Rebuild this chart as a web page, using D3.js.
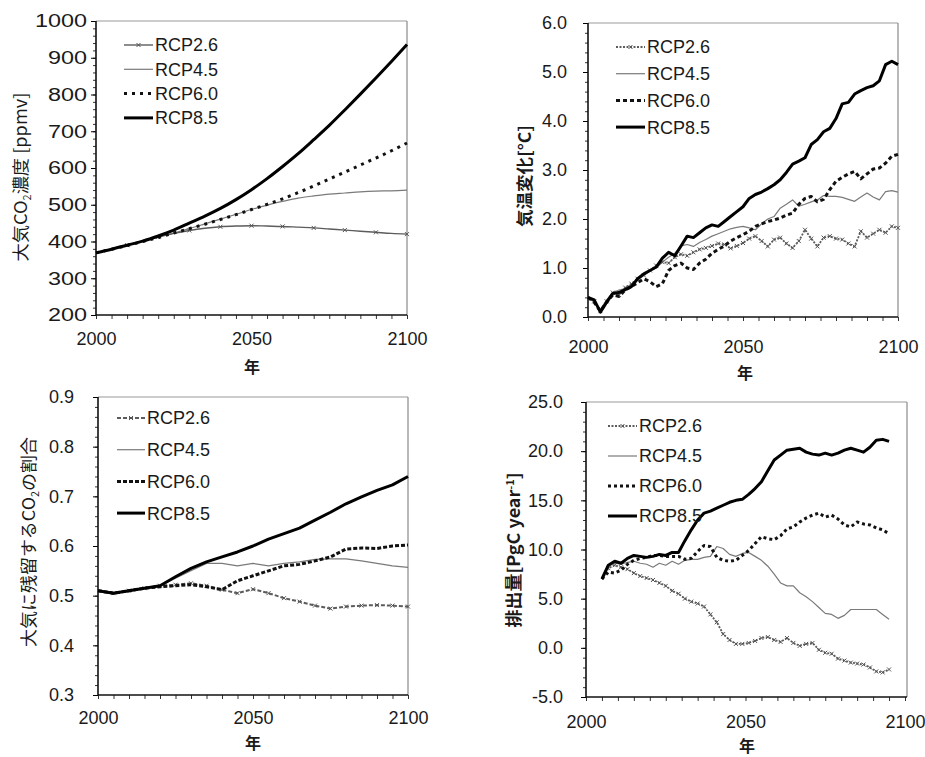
<!DOCTYPE html>
<html><head><meta charset="utf-8">
<script src="https://cdn.jsdelivr.net/npm/d3@7"></script>
<style>body{margin:0;background:#fff} svg{display:block}</style>
</head><body><svg id="c" width="925" height="757"></svg>
<script>
// ---------------- DATA ----------------
const seriesNames = ["RCP2.6", "RCP4.5", "RCP6.0", "RCP8.5"];
const xTickLabels = [2000, 2050, 2100];

// Panel 1: atmospheric CO2 (ppmv)
const co2Years = d3.range(2000, 2101, 5);
const co2_rcp26 = [369,379,390,401,412,422,430,436,440,442,443,442,441,439,437,434,431,428,425,422,420];
const co2_rcp45 = [369,379,390,401,412,423,435,448,461,474,487,499,509,518,524,529,532,535,537,538,540];
const co2_rcp60 = [369,379,389,400,411,423,435,447,460,473,487,501,516,533,551,570,589,608,627,647,668];
const co2_rcp85 = [369,379,390,401,415,431,450,469,490,514,541,571,604,639,677,716,758,801,845,890,936];
const co2Ticks = [200,300,400,500,600,700,800,900,1000];

// Panel 2: temperature change (°C)
const tempYears = d3.range(2000, 2101, 2);
const temp_rcp26 = [0.40,0.32,0.12,0.32,0.50,0.45,0.60,0.68,0.78,0.85,
                    0.95,1.05,1.12,1.10,1.22,1.28,1.25,1.32,1.38,1.41,
                    1.45,1.50,1.48,1.40,1.45,1.51,1.60,1.65,1.55,1.44,
                    1.58,1.62,1.50,1.41,1.55,1.78,1.60,1.44,1.62,1.65,
                    1.60,1.58,1.50,1.44,1.75,1.62,1.70,1.78,1.72,1.85,1.82];
const temp_rcp45 = [0.40,0.30,0.15,0.35,0.50,0.55,0.58,0.65,0.75,0.85,
                    0.95,1.00,1.12,1.22,1.30,1.45,1.48,1.44,1.52,1.58,
                    1.65,1.70,1.75,1.80,1.83,1.85,1.82,1.78,1.90,2.00,
                    2.05,2.22,2.30,2.39,2.26,2.30,2.35,2.39,2.48,2.46,
                    2.46,2.44,2.40,2.36,2.45,2.53,2.45,2.39,2.56,2.58,2.55];
const temp_rcp60 = [0.40,0.30,0.12,0.30,0.45,0.42,0.55,0.62,0.70,0.78,
                    0.72,0.62,0.68,0.95,1.05,1.10,1.00,0.97,1.10,1.18,
                    1.30,1.38,1.45,1.55,1.62,1.68,1.75,1.85,1.90,1.95,
                    1.98,2.02,2.08,2.12,2.30,2.42,2.46,2.35,2.40,2.60,
                    2.77,2.85,2.92,2.97,2.82,2.92,3.02,3.04,3.14,3.28,3.32];
const temp_rcp85 = [0.40,0.35,0.10,0.30,0.48,0.50,0.56,0.62,0.78,0.88,
                    0.95,1.02,1.20,1.32,1.25,1.45,1.65,1.62,1.72,1.82,
                    1.88,1.85,1.95,2.05,2.15,2.25,2.42,2.50,2.55,2.62,
                    2.70,2.80,2.95,3.12,3.18,3.25,3.52,3.62,3.78,3.85,
                    4.05,4.35,4.38,4.55,4.62,4.68,4.72,4.82,5.15,5.22,5.15];
const tempTicks = [0,1,2,3,4,5,6];

// Panel 3: airborne fraction of CO2
const afYears = d3.range(2000, 2101, 5);
const af_rcp26 = [0.510,0.505,0.510,0.515,0.520,0.522,0.525,0.520,0.512,0.505,0.513,0.505,0.495,0.488,0.480,0.474,0.478,0.480,0.481,0.480,0.478];
const af_rcp45 = [0.510,0.505,0.510,0.515,0.520,0.535,0.550,0.565,0.565,0.560,0.565,0.560,0.565,0.568,0.573,0.574,0.574,0.570,0.565,0.560,0.557];
const af_rcp60 = [0.510,0.505,0.510,0.515,0.518,0.520,0.522,0.518,0.512,0.530,0.540,0.550,0.560,0.563,0.570,0.578,0.594,0.596,0.595,0.600,0.602];
const af_rcp85 = [0.510,0.505,0.510,0.515,0.520,0.538,0.555,0.568,0.578,0.588,0.600,0.614,0.625,0.636,0.652,0.668,0.685,0.699,0.712,0.723,0.740];
const afTicks = [0.3,0.4,0.5,0.6,0.7,0.8,0.9];

// Panel 4: emissions (PgC/yr)
const emYears = d3.range(2005, 2096, 2);
const em_rcp26 = [7.0,8.1,8.4,8.2,8.0,7.6,7.3,7.1,6.9,6.6,
                  6.3,5.8,5.5,5.0,4.7,4.5,4.2,3.4,2.6,1.4,
                  0.8,0.4,0.4,0.5,0.7,1.0,1.1,0.8,0.6,1.0,
                  0.5,0.2,0.4,0.5,-0.2,-0.5,-0.6,-1.1,-1.3,-1.5,
                  -1.6,-1.7,-2.0,-2.4,-2.5,-2.2];
const em_rcp45 = [7.0,8.3,8.6,8.5,8.7,8.8,8.6,8.5,8.2,8.6,
                  8.4,8.8,8.5,8.9,9.0,9.0,9.2,9.3,10.3,10.1,
                  9.5,9.3,9.6,9.7,9.3,8.9,8.3,7.5,6.6,6.3,
                  6.3,5.6,5.2,4.7,4.1,3.5,3.4,3.0,3.3,3.9,
                  3.9,3.9,3.9,3.9,3.4,2.9];
const em_rcp60 = [7.0,7.7,7.6,7.9,8.5,8.9,9.1,9.2,9.4,9.4,
                  9.3,9.3,9.3,9.0,9.1,9.8,10.4,10.3,9.2,8.9,
                  8.8,8.9,9.4,9.9,10.6,11.3,11.1,11.0,11.4,12.1,
                  12.3,12.8,13.2,13.5,13.7,13.3,13.5,13.1,12.5,12.3,
                  12.8,12.6,12.5,12.2,12.0,11.6];
const em_rcp85 = [7.0,8.4,8.8,8.6,9.1,9.4,9.3,9.2,9.3,9.5,
                  9.4,9.7,9.7,10.9,12.0,13.0,13.7,13.9,14.2,14.5,
                  14.8,15.0,15.1,15.6,16.2,16.9,18.0,19.1,19.6,20.1,
                  20.2,20.3,19.9,19.7,19.6,19.8,19.6,19.8,20.1,20.3,
                  20.1,19.9,20.4,21.1,21.2,21.0];
const emTicks = [-5,0,5,10,15,20,25];

// ---------------- RENDER ----------------
const svg = d3.select("#c");
const NUM_FONT = "'Liberation Sans', Arial, sans-serif";
const JP_FONT = "'Noto Sans CJK JP', 'Noto Sans CJK SC', sans-serif";

const baseStyles = {
  "RCP2.6": {stroke: "#5c5c5c", width: 1.4, marker: true},
  "RCP4.5": {stroke: "#7a7a7a", width: 1.2},
  "RCP6.0": {stroke: "#111", width: 3},
  "RCP8.5": {stroke: "#000", width: 3}
};

const panels = [
  {x0: 96, x1: 407, right: 407, yTop: 21, yBot: 315, yDomain: [200, 1000], yTicks: co2Ticks, yMinor: 20,
   fmt: d => String(d), yGap: 9, yStretch: 1.3, xLabOff: 24,
   title: [{t: "大気CO"}, {t: "2", sub: true}, {t: "濃度 [ppmv]"}], tcx: 20, tcy: 177, tlen: 169, tsize: 17, tbold: false,
   yearX: 252, yearY: 367, lg: {x0: 124, x1: 153, tx: 155, y0: 45, dy: 24.3},
   dashes: {"RCP2.6": null, "RCP6.0": "3,5"}, w26: 1.4, markerEvery: 2,
   years: co2Years, data: [co2_rcp26, co2_rcp45, co2_rcp60, co2_rcp85]},
  {x0: 588, x1: 898, right: 898, yTop: 23, yBot: 317, yDomain: [0, 6], yTicks: tempTicks, yMinor: 0.2,
   fmt: d => d.toFixed(1), yGap: 21, yStretch: 1, xLabOff: 30,
   title: [{t: "気温変化[°C]"}], tcx: 523, tcy: 176, tlen: 102, tsize: 17, tbold: true,
   yearX: 745, yearY: 373, lg: {x0: 616, x1: 645, tx: 647, y0: 47, dy: 26.7},
   dashes: {"RCP2.6": "2,1.5", "RCP6.0": "4,3"}, w26: 1.8, markerEvery: 1,
   years: tempYears, data: [temp_rcp26, temp_rcp45, temp_rcp60, temp_rcp85]},
  {x0: 98, x1: 408, right: 408, yTop: 397, yBot: 695, yDomain: [0.3, 0.9], yTicks: afTicks, yMinor: 0.02,
   fmt: d => d.toFixed(1), yGap: 24, yStretch: 1, xLabOff: 23,
   title: [{t: "大気に残留するCO"}, {t: "2", sub: true}, {t: "の割合"}], tcx: 28, tcy: 542, tlen: 210, tsize: 17, tbold: false,
   yearX: 253, yearY: 743, lg: {x0: 117, x1: 145, tx: 147, y0: 418, dy: 31.7},
   dashes: {"RCP2.6": "4,2", "RCP6.0": "4,2"}, w26: 2, markerEvery: 1,
   years: afYears, data: [af_rcp26, af_rcp45, af_rcp60, af_rcp85]},
  {x0: 586, x1: 905, right: 907, yTop: 402, yBot: 697, yDomain: [-5, 25], yTicks: emTicks, yMinor: 1,
   fmt: d => d.toFixed(1), yGap: 23, yStretch: 1, xLabOff: 25,
   title: [{t: "排出量[PgC year"}, {t: "-1", sup: true}, {t: "]"}], tcx: 512, tcy: 550, tlen: 155, tsize: 17, tbold: true,
   yearX: 747, yearY: 746, lg: {x0: 608, x1: 637, tx: 639, y0: 426, dy: 30},
   dashes: {"RCP2.6": "2,1.5", "RCP6.0": "3,3"}, w26: 1.8, markerEvery: 1,
   years: emYears, data: [em_rcp26, em_rcp45, em_rcp60, em_rcp85]}
];

function xMarker(sel, cx, cy, color) {
  sel.append("path")
    .attr("d", `M${cx-2},${cy-2}L${cx+2},${cy+2}M${cx-2},${cy+2}L${cx+2},${cy-2}`)
    .attr("stroke", color).attr("stroke-width", 1).attr("fill", "none");
}

function styleFor(p, name) {
  const s = Object.assign({}, baseStyles[name]);
  s.dash = p.dashes[name] || null;
  if (name === "RCP2.6") s.width = p.w26;
  return s;
}

panels.forEach((p, pi) => {
  const x = d3.scaleLinear().domain([2000, 2100]).range([p.x0, p.x1]);
  const y = d3.scaleLinear().domain(p.yDomain).range([p.yBot, p.yTop]);
  const g = svg.append("g");

  // frame (top & right)
  g.append("line").attr("x1", p.x0).attr("x2", p.right).attr("y1", p.yTop).attr("y2", p.yTop)
    .attr("stroke", "#9a9a9a").attr("stroke-width", 1.2);
  g.append("line").attr("x1", p.right).attr("x2", p.right).attr("y1", p.yTop).attr("y2", p.yBot)
    .attr("stroke", "#8a8a8a").attr("stroke-width", 1.2);

  // y minor ticks
  const [lo, hi] = p.yDomain;
  const nMinor = Math.round((hi - lo) / p.yMinor);
  const minorVals = d3.range(nMinor + 1).map(i => lo + i * p.yMinor);
  g.append("g").attr("transform", `translate(${p.x0},0)`)
    .call(d3.axisLeft(y).tickValues(minorVals).tickSize(3).tickFormat(""))
    .call(a => a.select(".domain").remove())
    .call(a => a.selectAll("line").attr("stroke", "#333"));

  // y major ticks & labels
  const ya = g.append("g").attr("transform", `translate(${p.x0},0)`)
    .call(d3.axisLeft(y).tickValues(p.yTicks).tickSize(5).tickPadding(p.yGap - 5).tickFormat(p.fmt))
    .call(a => a.select(".domain").remove());
  ya.selectAll("text").attr("font-family", NUM_FONT).attr("font-size", 18).attr("fill", "#1a1a1a");
  if (p.yStretch !== 1) {
    ya.selectAll("text").each(function () {
      const w = this.getComputedTextLength();
      d3.select(this).attr("textLength", w * p.yStretch).attr("lengthAdjust", "spacingAndGlyphs");
    });
  }

  // x minor ticks (every 5 years)
  g.append("g").attr("transform", `translate(0,${p.yBot})`)
    .call(d3.axisBottom(x).tickValues(d3.range(2000, 2101, 5)).tickSize(4).tickFormat(""))
    .call(a => a.select(".domain").remove())
    .call(a => a.selectAll("line").attr("stroke", "#333"));

  // x labels
  const xa = g.append("g").attr("transform", `translate(0,${p.yBot})`)
    .call(d3.axisBottom(x).tickValues(xTickLabels).tickSize(0).tickPadding(p.xLabOff - 6.4).tickFormat(d3.format("d")))
    .call(a => a.select(".domain").remove());
  xa.selectAll("text").attr("font-family", NUM_FONT).attr("font-size", 18).attr("fill", "#1a1a1a");

  // axis lines
  g.append("line").attr("x1", p.x0).attr("x2", p.x0).attr("y1", p.yTop).attr("y2", p.yBot)
    .attr("stroke", "#111").attr("stroke-width", 1.6);
  g.append("line").attr("x1", p.x0).attr("x2", p.right).attr("y1", p.yBot).attr("y2", p.yBot)
    .attr("stroke", "#111").attr("stroke-width", 1.6);

  // series
  const order = [1, 0, 2, 3];
  order.forEach(i => {
    const name = seriesNames[i];
    const s = styleFor(p, name);
    const vals = p.data[i];
    const pts = p.years.map((yr, k) => [yr, vals[k]]);
    const line = d3.line().x(d => x(d[0])).y(d => y(d[1])).curve(pi === 0 ? d3.curveMonotoneX : d3.curveLinear);
    g.append("path").datum(pts).attr("d", line)
      .attr("fill", "none").attr("stroke", s.stroke).attr("stroke-width", s.width)
      .attr("stroke-dasharray", s.dash).attr("stroke-linejoin", "round");
    if (s.marker) {
      pts.forEach((d, k) => {
        if (k % p.markerEvery === 0 && k > 0) xMarker(g, x(d[0]), y(d[1]), "#555");
      });
    }
  });

  // legend
  seriesNames.forEach((name, i) => {
    const s = styleFor(p, name);
    const ly = p.lg.y0 + i * p.lg.dy;
    g.append("line").attr("x1", p.lg.x0).attr("x2", p.lg.x1).attr("y1", ly).attr("y2", ly)
      .attr("stroke", s.stroke).attr("stroke-width", Math.min(s.width, 3)).attr("stroke-dasharray", s.dash);
    if (s.marker) xMarker(g, (p.lg.x0 + p.lg.x1) / 2, ly, "#555");
    g.append("text").attr("x", p.lg.tx).attr("y", ly).attr("dy", "0.36em")
      .attr("font-family", NUM_FONT).attr("font-size", 18).attr("fill", "#1a1a1a").text(name);
  });

  // y title
  const t = g.append("text").attr("text-anchor", "middle")
    .attr("font-family", JP_FONT).attr("font-size", p.tsize)
    .attr("font-weight", p.tbold ? "bold" : "normal").attr("fill", "#1a1a1a");
  p.title.forEach((part, k) => {
    const ts = t.append("tspan").text(part.t);
    if (part.sub) ts.attr("font-size", p.tsize * 0.6).attr("dy", 4);
    if (part.sup) ts.attr("font-size", p.tsize * 0.6).attr("dy", -6);
    const prev = p.title[k - 1];
    if (prev && prev.sub) ts.attr("dy", -4);
    if (prev && prev.sup) ts.attr("dy", 6);
  });
  const bb = t.node().getBBox();
  const sx = p.tlen / bb.width;
  const midY = bb.y + bb.height / 2;
  t.attr("transform", `translate(${p.tcx},${p.tcy}) rotate(-90) scale(${sx},1) translate(0,${-midY})`);

  // x title
  g.append("text").attr("x", p.yearX).attr("y", p.yearY).attr("dy", "0.36em").attr("text-anchor", "middle")
    .attr("font-family", JP_FONT).attr("font-size", 16).attr("font-weight", "bold").attr("fill", "#1a1a1a").text("年");
});
</script>
</body></html>
